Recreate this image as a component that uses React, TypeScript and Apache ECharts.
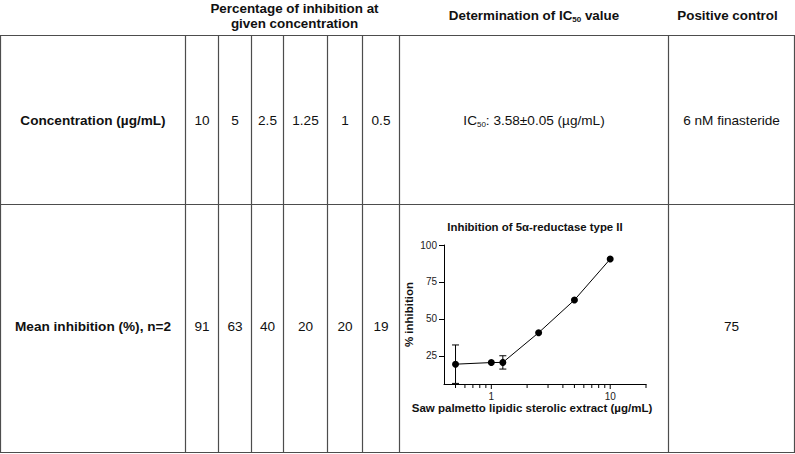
import React, { useEffect, useRef } from 'react';
import * as echarts from 'echarts';

// ---------- data ----------
const headerInhibition = ['Percentage of inhibition at', 'given concentration'];
const headerIC50 = 'Determination of IC{sub|50} value';
const headerControl = 'Positive control';
const rowLabels = ['Concentration (µg/mL)', 'Mean inhibition (%), n=2'];
const concentrationLabels = ['10', '5', '2.5', '1.25', '1', '0.5'];
const meanInhibition = [91, 63, 40, 20, 20, 19];
const ic50Text = 'IC{sub|50}: 3.58±0.05 (µg/mL)';
const positiveControl = '6 nM finasteride';
const positiveControlValue = [75];

const chartTitle = 'Inhibition of 5α-reductase type II';
const xAxisTitle = 'Saw palmetto lipidic sterolic extract (µg/mL)';
const yAxisTitle = '% inhibition';
const curveConc = [0.5, 1, 1.25, 2.5, 5, 10];
const curveInhibition = [19.4, 20.5, 20.6, 40.7, 62.8, 90.5];
const curveError = [13, 0, 4.5, 0, 0, 0];
const yTickValues = [25, 50, 75, 100];
const xTickValues = [0.5, 0.6, 0.7, 0.8, 0.9, 1, 2, 3, 4, 5, 6, 7, 8, 9, 10, 20];
const xLabelValues = [1, 10];
const X_MIN = 0.4;
const X_MAX = 20;
const Y_MIN = 6;
const Y_MAX = 100;

// ---------- layout ----------
const COLS = [0.5, 185.5, 218.5, 251.5, 283.5, 327.5, 362.5, 399.5, 668.5, 794.5];
const ROWS = [35.5, 204.5, 452.5];
const FONT = '"Liberation Sans", Arial, Helvetica, sans-serif';
const LINE_COLOR = '#4d4d4d';
const TEXT_COLOR = '#111';
const TABLE_FONT_SIZE = 13.6;

function buildGraphics(): any[] {
  const g: any[] = [];
  const line = (x1: number, y1: number, x2: number, y2: number) =>
    g.push({ type: 'line', silent: true, shape: { x1, y1, x2, y2 }, style: { stroke: LINE_COLOR, lineWidth: 1.2 } });
  ROWS.forEach((y) => line(0, y, 795, y));
  COLS.forEach((x) => line(x, ROWS[0], x, ROWS[2]));

  const text = (x: number, y: number, t: string, bold: boolean, size = TABLE_FONT_SIZE, rich?: any) =>
    g.push({
      type: 'text',
      silent: true,
      x,
      y,
      style: {
        text: t,
        fill: TEXT_COLOR,
        fontFamily: FONT,
        fontSize: size,
        fontWeight: bold ? 'bold' : 'normal',
        align: 'center',
        verticalAlign: 'middle',
        rich,
      },
    });

  const subRich = (bold: boolean) => ({
    sub: { fontSize: 8, fontFamily: FONT, fontWeight: bold ? 'bold' : 'normal', fill: TEXT_COLOR, lineHeight: 8, verticalAlign: 'bottom' },
  });

  // header
  const pctCenter = (COLS[1] + COLS[7]) / 2;
  text(pctCenter + 2, 8, headerInhibition[0], true, 13.4);
  text(pctCenter + 2, 23, headerInhibition[1], true, 13.4);
  g.push({
    type: 'text', silent: true, x: (COLS[7] + COLS[8]) / 2, y: 15,
    style: {
      text: headerIC50, fill: TEXT_COLOR, fontFamily: FONT, fontSize: 13.4, fontWeight: 'bold',
      lineHeight: 16, align: 'center', verticalAlign: 'middle', rich: subRich(true),
    },
  });
  text((COLS[8] + COLS[9]) / 2 - 4, 15, headerControl, true, 13.4);

  const r1 = (ROWS[0] + ROWS[1]) / 2;
  const r2 = 326;
  text((COLS[0] + COLS[1]) / 2, r1, rowLabels[0], true);
  text((COLS[0] + COLS[1]) / 2, r2, rowLabels[1], true);
  concentrationLabels.forEach((c, i) => text((COLS[i + 1] + COLS[i + 2]) / 2, r1, c, false));
  meanInhibition.forEach((v, i) => text((COLS[i + 1] + COLS[i + 2]) / 2, r2, String(v), false));
  g.push({
    type: 'text', silent: true, x: (COLS[7] + COLS[8]) / 2, y: r1,
    style: {
      text: ic50Text, fill: TEXT_COLOR, fontFamily: FONT, fontSize: TABLE_FONT_SIZE,
      lineHeight: 16, align: 'center', verticalAlign: 'middle', rich: subRich(false),
    },
  });
  text((COLS[8] + COLS[9]) / 2, r1, positiveControl, false);
  text((COLS[8] + COLS[9]) / 2, r2, String(positiveControlValue[0]), false);

  // chart title
  text(535, 227, chartTitle, true, 11.4);
  return g;
}

export default function App() {
  const ref = useRef<HTMLDivElement>(null);
  useEffect(() => {
    if (!ref.current) return;
    const chart = echarts.init(ref.current, undefined, { renderer: 'svg' });
    const errData = curveConc
      .map((c, i) => [c, curveInhibition[i] - curveError[i], curveInhibition[i] + curveError[i], curveError[i]])
      .filter((d) => d[3] > 0);
    const option: any = {
      animation: false,
      backgroundColor: '#fff',
      textStyle: { fontFamily: FONT },
      grid: { left: 444, top: 245, width: 202, height: 139, containLabel: false },
      xAxis: {
        type: 'log',
        logBase: 10,
        min: X_MIN,
        max: X_MAX,
        splitNumber: 2,
        name: xAxisTitle,
        nameLocation: 'middle',
        nameGap: 14,
        nameTextStyle: { fontFamily: FONT, fontSize: 11.5, fontWeight: 'bold', color: TEXT_COLOR, padding: [0, 26, 0, 0] },
        axisLine: { lineStyle: { color: '#000', width: 1 } },
        axisTick: { show: false },
        splitLine: { show: false },
        minorTick: { show: false },
        axisLabel: {
          color: '#222',
          fontFamily: FONT,
          fontSize: 10,
          margin: 7,
          showMinLabel: false,
          showMaxLabel: false,
          formatter: (v: number) => (xLabelValues.some((l) => Math.abs(l - v) < 1e-6) ? String(Math.round(v)) : ''),
        },
      },
      yAxis: {
        type: 'value',
        min: Y_MIN,
        max: Y_MAX,
        name: yAxisTitle,
        nameLocation: 'middle',
        nameGap: 29,
        nameRotate: 90,
        nameTextStyle: { fontFamily: FONT, fontSize: 11.5, fontWeight: 'bold', color: TEXT_COLOR },
        axisLine: { show: true, lineStyle: { color: '#000', width: 1 } },
        axisTick: { show: true, length: 5, customValues: yTickValues, lineStyle: { color: '#000' } },
        axisLabel: { customValues: yTickValues, color: '#222', fontFamily: FONT, fontSize: 10, margin: 7 },
        splitLine: { show: false },
      },
      graphic: buildGraphics(),
      series: [
        {
          type: 'custom',
          name: 'xticks',
          silent: true,
          clip: false,
          data: xTickValues.map((v) => [v, Y_MIN]),
          encode: { x: 0, y: 1 },
          renderItem: (params: any, api: any) => {
            const v = api.value(0);
            const p = api.coord([v, Y_MIN]);
            const len = xLabelValues.some((l) => Math.abs(l - v) < 1e-6) ? 5 : 4;
            return {
              type: 'line',
              shape: { x1: p[0], y1: p[1], x2: p[0], y2: p[1] + len },
              style: { stroke: '#000', lineWidth: 1 },
            };
          },
          z: 3,
        },
        {
          type: 'custom',
          name: 'errors',
          silent: true,
          clip: true,
          data: errData,
          encode: { x: 0, y: [1, 2] },
          renderItem: (params: any, api: any) => {
            const x = api.value(0);
            const lo = api.value(1);
            const hi = api.value(2);
            const top = api.coord([x, hi]);
            const bot = api.coord([x, Math.max(lo, Y_MIN)]);
            const cap = 3.5;
            const children: any[] = [
              { type: 'line', shape: { x1: top[0], y1: top[1], x2: bot[0], y2: bot[1] }, style: { stroke: '#000', lineWidth: 1 } },
              { type: 'line', shape: { x1: top[0] - cap, y1: top[1], x2: top[0] + cap, y2: top[1] }, style: { stroke: '#000', lineWidth: 1 } },
            ];
            if (lo >= Y_MIN) {
              children.push({ type: 'line', shape: { x1: bot[0] - cap, y1: bot[1], x2: bot[0] + cap, y2: bot[1] }, style: { stroke: '#000', lineWidth: 1 } });
            }
            return { type: 'group', children };
          },
          z: 4,
        },
        {
          type: 'line',
          name: 'inhibition',
          data: curveConc.map((c, i) => [c, curveInhibition[i]]),
          symbol: 'circle',
          symbolSize: 7,
          showSymbol: true,
          itemStyle: { color: '#000' },
          lineStyle: { color: '#000', width: 1 },
          z: 5,
        },
      ],
    };
    chart.setOption(option);
    return () => chart.dispose();
  }, []);
  return (
    <div
      ref={ref}
      style={{ position: 'absolute', left: 0, top: 0, width: 795, height: 454, background: '#fff' }}
    />
  );
}
